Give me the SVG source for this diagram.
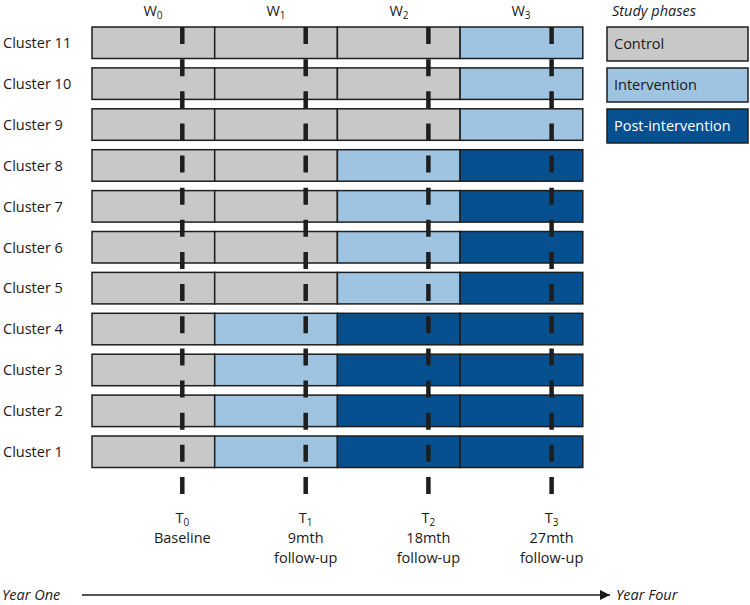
<svg xmlns="http://www.w3.org/2000/svg" width="750" height="605" viewBox="0 0 750 605">
<style>
text{font-family:"Open Sans","Liberation Sans",sans-serif;font-size:14.5px;fill:#1a1a1a}
.c{fill:#c8c8c8}.i{fill:#9ec4e1}.p{fill:#07508f}
.b{stroke:#1e1e1e;stroke-width:1.5}
.it{font-style:italic}
.mid{text-anchor:middle}
.sub{font-size:10px}
.dash{stroke:#1e1e1e;stroke-width:4.5;stroke-dasharray:17 15.14}
</style>
<defs>
<marker id="arr" viewBox="0 0 10 10" refX="10" refY="5" markerWidth="10" markerHeight="10" markerUnits="userSpaceOnUse" orient="auto">
<path d="M0,0 L10,5 L0,10 z" fill="#1a1a1a"/>
</marker>
</defs>
<g id="headers">
<text class="mid" x="153" y="16">W<tspan class="sub" dy="3">0</tspan></text>
<text class="mid" x="276" y="16">W<tspan class="sub" dy="3">1</tspan></text>
<text class="mid" x="399" y="16">W<tspan class="sub" dy="3">2</tspan></text>
<text class="mid" x="521" y="16">W<tspan class="sub" dy="3">3</tspan></text>
</g>
<g id="legend">
<text class="it" x="612" y="16">Study phases</text>
<rect class="c b" x="607" y="27" width="141" height="34"/>
<text x="614" y="49">Control</text>
<rect class="i b" x="607" y="68" width="141" height="34"/>
<text x="614" y="90">Intervention</text>
<rect class="p b" x="607" y="109" width="141" height="34"/>
<text x="614" y="131" style="fill:#fff">Post-intervention</text>
</g>
<g id="cluster11"><text x="3" y="48">Cluster 11</text>
<rect class="c b" x="92" y="27" width="122.7" height="31.5"/><rect class="c b" x="214.7" y="27" width="122.7" height="31.5"/><rect class="c b" x="337.4" y="27" width="122.7" height="31.5"/><rect class="i b" x="460.1" y="27" width="122.7" height="31.5"/></g>
<g id="cluster10"><text x="3" y="88.9">Cluster 10</text>
<rect class="c b" x="92" y="67.9" width="122.7" height="31.5"/><rect class="c b" x="214.7" y="67.9" width="122.7" height="31.5"/><rect class="c b" x="337.4" y="67.9" width="122.7" height="31.5"/><rect class="i b" x="460.1" y="67.9" width="122.7" height="31.5"/></g>
<g id="cluster9"><text x="3" y="129.8">Cluster 9</text>
<rect class="c b" x="92" y="108.8" width="122.7" height="31.5"/><rect class="c b" x="214.7" y="108.8" width="122.7" height="31.5"/><rect class="c b" x="337.4" y="108.8" width="122.7" height="31.5"/><rect class="i b" x="460.1" y="108.8" width="122.7" height="31.5"/></g>
<g id="cluster8"><text x="3" y="170.7">Cluster 8</text>
<rect class="c b" x="92" y="149.7" width="122.7" height="31.5"/><rect class="c b" x="214.7" y="149.7" width="122.7" height="31.5"/><rect class="i b" x="337.4" y="149.7" width="122.7" height="31.5"/><rect class="p b" x="460.1" y="149.7" width="122.7" height="31.5"/></g>
<g id="cluster7"><text x="3" y="211.6">Cluster 7</text>
<rect class="c b" x="92" y="190.6" width="122.7" height="31.5"/><rect class="c b" x="214.7" y="190.6" width="122.7" height="31.5"/><rect class="i b" x="337.4" y="190.6" width="122.7" height="31.5"/><rect class="p b" x="460.1" y="190.6" width="122.7" height="31.5"/></g>
<g id="cluster6"><text x="3" y="252.5">Cluster 6</text>
<rect class="c b" x="92" y="231.5" width="122.7" height="31.5"/><rect class="c b" x="214.7" y="231.5" width="122.7" height="31.5"/><rect class="i b" x="337.4" y="231.5" width="122.7" height="31.5"/><rect class="p b" x="460.1" y="231.5" width="122.7" height="31.5"/></g>
<g id="cluster5"><text x="3" y="293.4">Cluster 5</text>
<rect class="c b" x="92" y="272.4" width="122.7" height="31.5"/><rect class="c b" x="214.7" y="272.4" width="122.7" height="31.5"/><rect class="i b" x="337.4" y="272.4" width="122.7" height="31.5"/><rect class="p b" x="460.1" y="272.4" width="122.7" height="31.5"/></g>
<g id="cluster4"><text x="3" y="334.3">Cluster 4</text>
<rect class="c b" x="92" y="313.3" width="122.7" height="31.5"/><rect class="i b" x="214.7" y="313.3" width="122.7" height="31.5"/><rect class="p b" x="337.4" y="313.3" width="122.7" height="31.5"/><rect class="p b" x="460.1" y="313.3" width="122.7" height="31.5"/></g>
<g id="cluster3"><text x="3" y="375.2">Cluster 3</text>
<rect class="c b" x="92" y="354.2" width="122.7" height="31.5"/><rect class="i b" x="214.7" y="354.2" width="122.7" height="31.5"/><rect class="p b" x="337.4" y="354.2" width="122.7" height="31.5"/><rect class="p b" x="460.1" y="354.2" width="122.7" height="31.5"/></g>
<g id="cluster2"><text x="3" y="416.1">Cluster 2</text>
<rect class="c b" x="92" y="395.1" width="122.7" height="31.5"/><rect class="i b" x="214.7" y="395.1" width="122.7" height="31.5"/><rect class="p b" x="337.4" y="395.1" width="122.7" height="31.5"/><rect class="p b" x="460.1" y="395.1" width="122.7" height="31.5"/></g>
<g id="cluster1"><text x="3" y="457">Cluster 1</text>
<rect class="c b" x="92" y="436" width="122.7" height="31.5"/><rect class="i b" x="214.7" y="436" width="122.7" height="31.5"/><rect class="p b" x="337.4" y="436" width="122.7" height="31.5"/><rect class="p b" x="460.1" y="436" width="122.7" height="31.5"/></g>
<g id="connectors">
<line class="dash" x1="182.3" y1="27" x2="182.3" y2="494"/>
<line class="dash" x1="305.7" y1="27" x2="305.7" y2="494"/>
<line class="dash" x1="428.4" y1="27" x2="428.4" y2="494"/>
<line class="dash" x1="551.6" y1="27" x2="551.6" y2="494"/>
<line x1="82" y1="595" x2="610" y2="595" stroke="#1a1a1a" stroke-width="1.3" marker-end="url(#arr)"/>
</g>
<g id="timepoints">
<text class="mid" x="182.3" y="523">T<tspan class="sub" dy="3">0</tspan></text>
<text class="mid" x="182.3" y="543">Baseline</text>
<text class="mid" x="305.7" y="523">T<tspan class="sub" dy="3">1</tspan></text>
<text class="mid" x="305.7" y="543">9mth</text>
<text class="mid" x="305.7" y="563">follow-up</text>
<text class="mid" x="428.4" y="523">T<tspan class="sub" dy="3">2</tspan></text>
<text class="mid" x="428.4" y="543">18mth</text>
<text class="mid" x="428.4" y="563">follow-up</text>
<text class="mid" x="551.6" y="523">T<tspan class="sub" dy="3">3</tspan></text>
<text class="mid" x="551.6" y="543">27mth</text>
<text class="mid" x="551.6" y="563">follow-up</text>
</g>
<g id="axis-labels">
<text class="it" x="2" y="600">Year One</text>
<text class="it" x="616" y="600">Year Four</text>
</g>
</svg>
